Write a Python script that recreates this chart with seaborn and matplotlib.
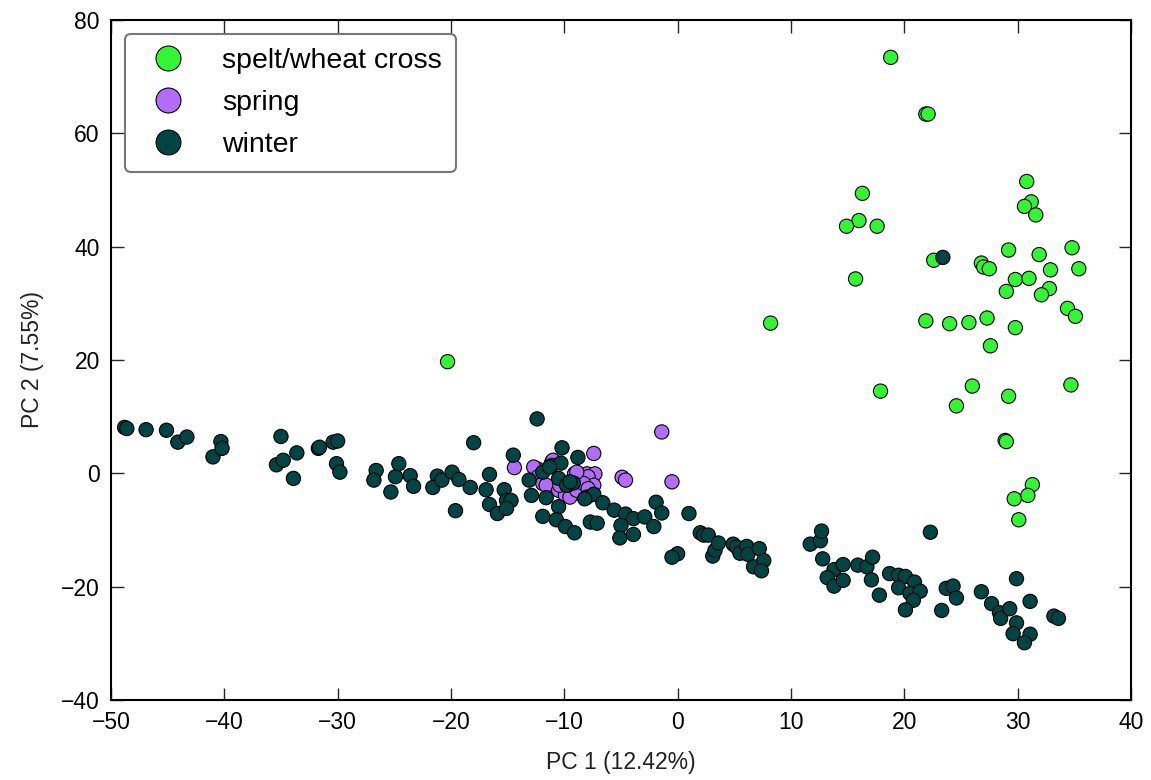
import pandas as pd
import matplotlib.pyplot as plt
import seaborn as sns

sns.set_style("ticks")
plt.rcParams['font.family'] = ['Liberation Sans', 'DejaVu Sans']
plt.rcParams['xtick.direction'] = 'in'
plt.rcParams['ytick.direction'] = 'in'
plt.rcParams['xtick.top'] = True
plt.rcParams['ytick.right'] = True
plt.rcParams['text.color'] = 'black'
plt.rcParams['xtick.labelcolor'] = 'black'
plt.rcParams['ytick.labelcolor'] = 'black'

# spelt/wheat cross
spelt_x = [18.8, 21.9, 22.1, 16.3, 16.0, 14.9, 17.6, 30.8, 31.2, 30.6, 31.6, 22.6, 26.8, 27.0,
           27.5, 29.2, 31.9, 34.8, 32.9, 35.4, 15.7, 29.8, 31.0, 29.0, 32.8, 32.1, 34.4, 35.1,
           21.9, 24.0, 25.7, 27.3, 29.8, 27.6, 17.9, 26.0, 24.6, 29.2, 34.7, 28.9, 29.0, 31.3,
           30.9, 29.7, 30.1, -20.3, 8.2]
spelt_y = [73.4, 63.4, 63.4, 49.4, 44.6, 43.6, 43.6, 51.5, 47.9, 47.1, 45.6, 37.6, 37.1, 36.4,
           36.1, 39.4, 38.6, 39.8, 35.9, 36.1, 34.3, 34.2, 34.4, 32.1, 32.6, 31.5, 29.1, 27.7,
           26.9, 26.4, 26.6, 27.4, 25.7, 22.5, 14.5, 15.4, 11.9, 13.6, 15.6, 5.8, 5.6, -2.0,
           -3.9, -4.5, -8.2, 19.7, 26.5]

# spring
spring_x = [-14.4, -12.4, -12.7, -12.3, -11.1, -11.0, -11.9, -11.6, -10.5, -9.9, -9.5, -9.1,
            -8.6, -8.0, -7.3, -7.9, -7.4, -8.6, -8.9, -9.7, -10.4, -8.3, -7.9, -7.4, -8.9,
            -4.9, -4.6, -1.4, -0.5]
spring_y = [1.0, 0.8, 1.1, -0.6, 2.0, 2.3, -1.8, -2.1, -3.0, -3.9, -4.2, -0.1,
            -0.6, -0.1, -0.1, -0.6, -2.1, -2.7, -3.0, -2.1, -2.1, -1.8, -2.7, 3.5, 0.2,
            -0.7, -1.2, 7.3, -1.5]

# winter
winter_x = [-48.8, -48.6, -46.9, -45.1, -44.1, -43.3, -41.0, -40.3, -40.2, -35.0, -35.4, -34.8,
            -33.6, -33.9, -31.7, -31.6, -30.4, -30.0, -30.1, -29.8, -26.6, -26.8, -24.9, -25.3,
            -24.6, -23.6, -23.3, -21.2, -21.6, -20.8, -19.9, -19.3, -19.6, -18.3, -18.0, -16.9,
            -16.6, -16.6, -15.9, -15.3, -15.1, -14.7, -15.1, -14.5, -13.1, -12.9, -12.4, -11.9,
            -11.9, -11.6, -11.1, -10.2, -10.3, -10.5, -10.5, -10.7, -9.9, -9.1, -9.8, -9.2,
            -8.8, -8.0, -7.4, -7.7, -7.1, -6.6, -5.6, -4.6, -5.0, -5.1, -3.9, -3.9,
            -2.9, -2.1, -1.9, -1.4, 1.0, 0.0, -0.5, -9.5, -8.2, -11.3,
            2.0, 2.3, 2.7, 3.1, 3.3, 3.6, 4.9, 5.2, 5.5, 6.1, 6.2, 6.7, 7.2, 7.6, 7.4,
            11.7, 12.6, 12.7, 12.8, 13.8, 13.2, 13.8, 14.6, 14.6, 15.9, 16.7, 17.2, 17.1, 17.8,
            18.7, 19.5, 20.1, 20.9, 19.5, 20.5, 21.4, 20.8, 20.1, 22.3, 23.3, 23.7, 24.3, 24.6,
            26.8, 27.7, 28.4, 28.5, 29.3, 29.9, 31.1, 29.6, 31.1, 30.6, 33.2, 33.6, 29.9, 23.4]
winter_y = [8.1, 7.9, 7.7, 7.6, 5.5, 6.4, 2.9, 5.6, 4.4, 6.5, 1.5, 2.3,
            3.6, -0.9, 4.4, 4.6, 5.5, 5.7, 1.7, 0.2, 0.5, -1.2, -0.6, -3.3,
            1.7, -0.4, -2.3, -0.5, -2.5, -1.2, 0.2, -1.1, -6.6, -2.5, 5.4, -2.9,
            -0.2, -5.5, -7.1, -2.9, -4.8, -4.8, -6.2, 3.2, -1.2, -3.9, 9.6, 0.2,
            -7.6, -4.3, 1.4, 4.5, 1.8, -0.9, -5.9, -8.2, -9.4, -10.5, -2.1, -1.7,
            2.8, -4.2, -3.7, -8.6, -8.8, -5.2, -6.5, -7.2, -9.2, -11.4, -8.0, -10.8,
            -7.7, -9.4, -5.1, -7.0, -7.1, -14.2, -14.8, -1.5, -4.5, 1.1,
            -10.5, -10.9, -10.9, -14.6, -13.6, -12.3, -12.5, -13.0, -14.1, -12.9, -14.3, -16.5, -13.3, -15.4, -17.2,
            -12.5, -11.9, -10.2, -15.1, -17.0, -18.4, -19.9, -16.1, -18.9, -16.2, -16.5, -14.8, -18.8, -21.5,
            -17.7, -18.0, -18.2, -19.2, -20.2, -21.2, -20.8, -22.4, -24.1, -10.4, -24.2, -20.3, -19.9, -22.0,
            -20.9, -23.0, -24.6, -25.6, -23.9, -26.4, -22.6, -28.3, -28.4, -29.9, -25.2, -25.6, -18.6, 38.1]

groups = ['spelt/wheat cross', 'spring', 'winter']
colors = {'spelt/wheat cross': '#33f533', 'spring': '#b26cf7', 'winter': '#004444'}

df = pd.concat([
    pd.DataFrame({'pc1': spelt_x, 'pc2': spelt_y, 'type': groups[0]}),
    pd.DataFrame({'pc1': spring_x, 'pc2': spring_y, 'type': groups[1]}),
    pd.DataFrame({'pc1': winter_x, 'pc2': winter_y, 'type': groups[2]}),
], ignore_index=True)

fig = plt.figure(figsize=(11.51, 7.80), dpi=100)
ax = fig.add_axes([0.0964, 0.1026, 0.8862, 0.8718])
sns.scatterplot(data=df, x='pc1', y='pc2', hue='type', hue_order=groups, palette=colors,
                s=105, edgecolor='black', linewidth=0.8, alpha=1, ax=ax)

ax.set_xlim(-50, 40)
ax.set_ylim(-40, 80)
ax.set_xticks(range(-50, 41, 10))
ax.set_yticks(range(-40, 81, 20))
ax.tick_params(axis='both', which='major', length=9, width=1, labelsize=16.5, pad=8)
for sp in ax.spines.values():
    sp.set_linewidth(1.5)
    sp.set_color('black')
ax.set_xlabel('PC 1 (12.42%)', fontsize=16.5, labelpad=12, color='#222222')
ax.set_ylabel('PC 2 (7.55%)', fontsize=16.5, labelpad=12, color='#222222')

leg = ax.legend(loc='upper left', fontsize=20.5, markerscale=1.75, frameon=True, fancybox=True,
                borderpad=0.5, handletextpad=0.9, labelspacing=0.55, borderaxespad=0.5)
leg.get_frame().set_edgecolor('#777777')
leg.get_frame().set_linewidth(1.5)
leg.get_frame().set_alpha(1)

plt.savefig('out.png', dpi=100)
